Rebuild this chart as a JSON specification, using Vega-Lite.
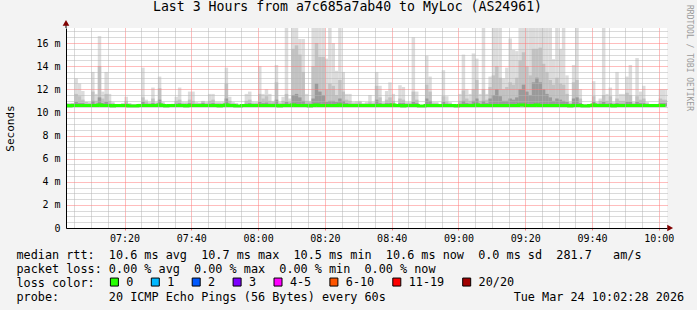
{
  "$schema": "https://vega.github.io/schema/vega-lite/v6.json",
  "width": 601,
  "height": 200,
  "autosize": {"type": "none"},
  "padding": {"left": 66, "top": 28, "right": 30, "bottom": 82},
  "background": "#f3f3f3",
  "config": {"view": {"stroke": null, "fill": "#ffffff"}, "font": "DejaVu Sans Mono"},
  "title": {"text": "Last 3 Hours from a7c685a7ab40 to MyLoc (AS24961)", "font": "DejaVu Sans Mono", "fontSize": 13.2, "fontWeight": "normal", "color": "black", "anchor": "middle", "frame": "group", "dx": -19, "offset": -19.5, "baseline": "alphabetic"},
  "datasets": {
    "smoke": [
      {"t":"2026-03-24T07:02","h":10.8,"m":10.8,"d":10.7,"md":10.6},
      {"t":"2026-03-24T07:03","h":10.8,"m":10.75,"d":10.7,"md":10.55},
      {"t":"2026-03-24T07:04","h":10.8,"m":10.8,"d":10.7,"md":10.6},
      {"t":"2026-03-24T07:05","h":12.95,"m":11.6,"d":10.9,"md":10.6},
      {"t":"2026-03-24T07:06","h":12.5,"m":11.4,"d":10.8,"md":10.6},
      {"t":"2026-03-24T07:07","h":11.85,"m":11.1,"d":10.8,"md":10.6},
      {"t":"2026-03-24T07:08","h":10.9,"m":10.9,"d":10.7,"md":10.6},
      {"t":"2026-03-24T07:09","h":10.9,"m":10.8,"d":10.7,"md":10.6},
      {"t":"2026-03-24T07:10","h":13.5,"m":11.8,"d":11.0,"md":10.6},
      {"t":"2026-03-24T07:11","h":11.6,"m":11.0,"d":10.75,"md":10.6},
      {"t":"2026-03-24T07:12","h":16.6,"m":14.0,"d":11.3,"md":10.65},
      {"t":"2026-03-24T07:13","h":11.8,"m":11.2,"d":10.8,"md":10.6},
      {"t":"2026-03-24T07:14","h":13.5,"m":11.6,"d":10.9,"md":10.6},
      {"t":"2026-03-24T07:15","h":11.6,"m":11.0,"d":10.75,"md":10.6},
      {"t":"2026-03-24T07:16","h":10.9,"m":10.8,"d":10.7,"md":10.55},
      {"t":"2026-03-24T07:17","h":10.7,"m":10.7,"d":10.65,"md":10.6},
      {"t":"2026-03-24T07:18","h":10.7,"m":10.7,"d":10.65,"md":10.6},
      {"t":"2026-03-24T07:19","h":10.8,"m":10.75,"d":10.7,"md":10.6},
      {"t":"2026-03-24T07:20","h":11.35,"m":11.0,"d":10.75,"md":10.6},
      {"t":"2026-03-24T07:21","h":10.8,"m":10.75,"d":10.7,"md":10.55},
      {"t":"2026-03-24T07:22","h":10.7,"m":10.7,"d":10.65,"md":10.55},
      {"t":"2026-03-24T07:23","h":10.7,"m":10.7,"d":10.65,"md":10.55},
      {"t":"2026-03-24T07:24","h":10.75,"m":10.7,"d":10.65,"md":10.6},
      {"t":"2026-03-24T07:25","h":13.87,"m":11.3,"d":10.9,"md":10.6},
      {"t":"2026-03-24T07:26","h":11.1,"m":10.9,"d":10.75,"md":10.6},
      {"t":"2026-03-24T07:27","h":10.9,"m":10.8,"d":10.7,"md":10.6},
      {"t":"2026-03-24T07:28","h":12.15,"m":11.2,"d":10.8,"md":10.6},
      {"t":"2026-03-24T07:29","h":10.9,"m":10.8,"d":10.7,"md":10.6},
      {"t":"2026-03-24T07:30","h":13.1,"m":12.1,"d":11.1,"md":10.65},
      {"t":"2026-03-24T07:31","h":10.9,"m":10.8,"d":10.7,"md":10.6},
      {"t":"2026-03-24T07:32","h":10.7,"m":10.7,"d":10.65,"md":10.55},
      {"t":"2026-03-24T07:33","h":10.7,"m":10.7,"d":10.65,"md":10.6},
      {"t":"2026-03-24T07:34","h":10.75,"m":10.7,"d":10.65,"md":10.6},
      {"t":"2026-03-24T07:35","h":11.35,"m":11.0,"d":10.75,"md":10.6},
      {"t":"2026-03-24T07:36","h":12.15,"m":11.1,"d":10.8,"md":10.6},
      {"t":"2026-03-24T07:37","h":10.9,"m":10.8,"d":10.7,"md":10.6},
      {"t":"2026-03-24T07:38","h":10.9,"m":10.8,"d":10.7,"md":10.55},
      {"t":"2026-03-24T07:39","h":11.8,"m":11.1,"d":10.8,"md":10.6},
      {"t":"2026-03-24T07:40","h":11.8,"m":11.0,"d":10.75,"md":10.6},
      {"t":"2026-03-24T07:41","h":10.9,"m":10.8,"d":10.7,"md":10.6},
      {"t":"2026-03-24T07:42","h":10.85,"m":10.8,"d":10.7,"md":10.6},
      {"t":"2026-03-24T07:43","h":11.0,"m":10.95,"d":10.8,"md":10.6},
      {"t":"2026-03-24T07:44","h":10.9,"m":10.8,"d":10.7,"md":10.6},
      {"t":"2026-03-24T07:45","h":11.6,"m":11.0,"d":10.75,"md":10.6},
      {"t":"2026-03-24T07:46","h":11.6,"m":11.1,"d":10.8,"md":10.6},
      {"t":"2026-03-24T07:47","h":10.9,"m":10.8,"d":10.7,"md":10.6},
      {"t":"2026-03-24T07:48","h":10.9,"m":10.8,"d":10.7,"md":10.55},
      {"t":"2026-03-24T07:49","h":10.9,"m":10.8,"d":10.7,"md":10.6},
      {"t":"2026-03-24T07:50","h":13.87,"m":12.5,"d":11.2,"md":10.65},
      {"t":"2026-03-24T07:51","h":11.35,"m":11.0,"d":10.75,"md":10.6},
      {"t":"2026-03-24T07:52","h":10.9,"m":10.8,"d":10.7,"md":10.6},
      {"t":"2026-03-24T07:53","h":10.8,"m":10.75,"d":10.7,"md":10.55},
      {"t":"2026-03-24T07:54","h":10.6,"m":10.6,"d":10.6,"md":10.55},
      {"t":"2026-03-24T07:55","h":10.6,"m":10.6,"d":10.6,"md":10.6},
      {"t":"2026-03-24T07:56","h":11.6,"m":11.0,"d":10.75,"md":10.6},
      {"t":"2026-03-24T07:57","h":11.8,"m":11.1,"d":10.8,"md":10.6},
      {"t":"2026-03-24T07:58","h":10.9,"m":10.8,"d":10.7,"md":10.6},
      {"t":"2026-03-24T07:59","h":10.9,"m":10.8,"d":10.7,"md":10.6},
      {"t":"2026-03-24T08:00","h":14.0,"m":11.6,"d":10.9,"md":10.6},
      {"t":"2026-03-24T08:01","h":11.6,"m":11.2,"d":10.8,"md":10.6},
      {"t":"2026-03-24T08:02","h":12.0,"m":11.4,"d":10.85,"md":10.6},
      {"t":"2026-03-24T08:03","h":11.6,"m":11.0,"d":10.75,"md":10.6},
      {"t":"2026-03-24T08:04","h":11.0,"m":10.9,"d":10.75,"md":10.6},
      {"t":"2026-03-24T08:05","h":14.1,"m":12.6,"d":11.1,"md":10.6},
      {"t":"2026-03-24T08:06","h":10.9,"m":10.8,"d":10.7,"md":10.55},
      {"t":"2026-03-24T08:07","h":11.35,"m":11.0,"d":10.75,"md":10.6},
      {"t":"2026-03-24T08:08","h":17.3,"m":11.6,"d":10.9,"md":10.6},
      {"t":"2026-03-24T08:09","h":11.2,"m":10.9,"d":10.75,"md":10.6},
      {"t":"2026-03-24T08:10","h":17.3,"m":15.5,"d":11.5,"md":10.65},
      {"t":"2026-03-24T08:11","h":17.3,"m":15.8,"d":11.6,"md":10.6},
      {"t":"2026-03-24T08:12","h":16.35,"m":15.0,"d":11.3,"md":10.6},
      {"t":"2026-03-24T08:13","h":16.35,"m":13.5,"d":11.0,"md":10.6},
      {"t":"2026-03-24T08:14","h":11.6,"m":11.0,"d":10.75,"md":10.6},
      {"t":"2026-03-24T08:15","h":11.0,"m":10.9,"d":10.75,"md":10.55},
      {"t":"2026-03-24T08:16","h":17.3,"m":14.0,"d":11.2,"md":10.6},
      {"t":"2026-03-24T08:17","h":17.3,"m":16.0,"d":12.5,"md":10.65},
      {"t":"2026-03-24T08:18","h":17.3,"m":14.8,"d":11.8,"md":10.6},
      {"t":"2026-03-24T08:19","h":17.3,"m":14.8,"d":11.5,"md":10.6},
      {"t":"2026-03-24T08:20","h":14.65,"m":12.0,"d":10.9,"md":10.6},
      {"t":"2026-03-24T08:21","h":17.3,"m":12.5,"d":11.0,"md":10.6},
      {"t":"2026-03-24T08:22","h":16.0,"m":12.3,"d":11.0,"md":10.6},
      {"t":"2026-03-24T08:23","h":13.6,"m":11.5,"d":10.9,"md":10.6},
      {"t":"2026-03-24T08:24","h":17.3,"m":12.8,"d":11.2,"md":10.65},
      {"t":"2026-03-24T08:25","h":13.5,"m":11.8,"d":11.0,"md":10.6},
      {"t":"2026-03-24T08:26","h":11.6,"m":11.1,"d":10.8,"md":10.6},
      {"t":"2026-03-24T08:27","h":11.6,"m":11.0,"d":10.75,"md":10.6},
      {"t":"2026-03-24T08:28","h":10.9,"m":10.8,"d":10.7,"md":10.6},
      {"t":"2026-03-24T08:29","h":10.95,"m":10.85,"d":10.7,"md":10.6},
      {"t":"2026-03-24T08:30","h":11.0,"m":10.9,"d":10.75,"md":10.6},
      {"t":"2026-03-24T08:31","h":10.8,"m":10.75,"d":10.7,"md":10.6},
      {"t":"2026-03-24T08:32","h":10.9,"m":10.8,"d":10.7,"md":10.6},
      {"t":"2026-03-24T08:33","h":11.5,"m":10.9,"d":10.75,"md":10.6},
      {"t":"2026-03-24T08:34","h":10.9,"m":10.8,"d":10.7,"md":10.6},
      {"t":"2026-03-24T08:35","h":13.5,"m":12.3,"d":11.1,"md":10.6},
      {"t":"2026-03-24T08:36","h":12.3,"m":11.3,"d":10.8,"md":10.6},
      {"t":"2026-03-24T08:37","h":10.9,"m":10.8,"d":10.7,"md":10.6},
      {"t":"2026-03-24T08:38","h":11.85,"m":11.1,"d":10.8,"md":10.6},
      {"t":"2026-03-24T08:39","h":12.6,"m":11.3,"d":10.8,"md":10.6},
      {"t":"2026-03-24T08:40","h":11.6,"m":11.0,"d":10.75,"md":10.65},
      {"t":"2026-03-24T08:41","h":10.6,"m":10.6,"d":10.6,"md":10.6},
      {"t":"2026-03-24T08:42","h":12.35,"m":11.2,"d":10.8,"md":10.6},
      {"t":"2026-03-24T08:43","h":12.2,"m":11.1,"d":10.8,"md":10.55},
      {"t":"2026-03-24T08:44","h":10.9,"m":10.8,"d":10.7,"md":10.6},
      {"t":"2026-03-24T08:45","h":10.9,"m":10.8,"d":10.7,"md":10.6},
      {"t":"2026-03-24T08:46","h":16.5,"m":11.8,"d":10.9,"md":10.6},
      {"t":"2026-03-24T08:47","h":11.8,"m":11.1,"d":10.8,"md":10.6},
      {"t":"2026-03-24T08:48","h":10.6,"m":10.6,"d":10.6,"md":10.55},
      {"t":"2026-03-24T08:49","h":10.6,"m":10.6,"d":10.6,"md":10.55},
      {"t":"2026-03-24T08:50","h":14.9,"m":12.4,"d":11.2,"md":10.6},
      {"t":"2026-03-24T08:51","h":13.1,"m":11.8,"d":11.0,"md":10.6},
      {"t":"2026-03-24T08:52","h":10.9,"m":10.8,"d":10.7,"md":10.6},
      {"t":"2026-03-24T08:53","h":10.9,"m":10.8,"d":10.7,"md":10.6},
      {"t":"2026-03-24T08:54","h":10.6,"m":10.6,"d":10.6,"md":10.6},
      {"t":"2026-03-24T08:55","h":13.65,"m":11.4,"d":10.9,"md":10.6},
      {"t":"2026-03-24T08:56","h":11.4,"m":10.9,"d":10.75,"md":10.6},
      {"t":"2026-03-24T08:57","h":10.9,"m":10.8,"d":10.7,"md":10.6},
      {"t":"2026-03-24T08:58","h":10.7,"m":10.7,"d":10.65,"md":10.6},
      {"t":"2026-03-24T08:59","h":10.7,"m":10.7,"d":10.65,"md":10.55},
      {"t":"2026-03-24T09:00","h":11.6,"m":11.0,"d":10.75,"md":10.6},
      {"t":"2026-03-24T09:01","h":15.0,"m":11.9,"d":11.0,"md":10.6},
      {"t":"2026-03-24T09:02","h":12.0,"m":11.2,"d":10.8,"md":10.6},
      {"t":"2026-03-24T09:03","h":11.6,"m":11.0,"d":10.75,"md":10.6},
      {"t":"2026-03-24T09:04","h":15.1,"m":12.0,"d":11.0,"md":10.6},
      {"t":"2026-03-24T09:05","h":14.65,"m":12.8,"d":11.2,"md":10.65},
      {"t":"2026-03-24T09:06","h":11.6,"m":11.0,"d":10.75,"md":10.6},
      {"t":"2026-03-24T09:07","h":17.3,"m":12.0,"d":11.0,"md":10.6},
      {"t":"2026-03-24T09:08","h":11.6,"m":11.1,"d":10.8,"md":10.6},
      {"t":"2026-03-24T09:09","h":13.1,"m":12.2,"d":11.2,"md":10.6},
      {"t":"2026-03-24T09:10","h":17.3,"m":13.2,"d":11.5,"md":10.6},
      {"t":"2026-03-24T09:11","h":17.3,"m":14.0,"d":12.0,"md":10.6},
      {"t":"2026-03-24T09:12","h":17.3,"m":13.0,"d":11.4,"md":10.6},
      {"t":"2026-03-24T09:13","h":12.95,"m":12.0,"d":11.0,"md":10.6},
      {"t":"2026-03-24T09:14","h":13.87,"m":12.2,"d":11.0,"md":10.6},
      {"t":"2026-03-24T09:15","h":16.4,"m":12.6,"d":11.2,"md":10.6},
      {"t":"2026-03-24T09:16","h":15.4,"m":12.4,"d":11.1,"md":10.6},
      {"t":"2026-03-24T09:17","h":15.3,"m":13.0,"d":11.3,"md":10.6},
      {"t":"2026-03-24T09:18","h":17.3,"m":14.5,"d":12.0,"md":10.65},
      {"t":"2026-03-24T09:19","h":17.3,"m":15.2,"d":12.4,"md":10.65},
      {"t":"2026-03-24T09:20","h":17.3,"m":14.0,"d":11.8,"md":10.6},
      {"t":"2026-03-24T09:21","h":17.3,"m":13.2,"d":11.5,"md":10.6},
      {"t":"2026-03-24T09:22","h":17.3,"m":15.5,"d":12.6,"md":10.6},
      {"t":"2026-03-24T09:23","h":17.3,"m":15.5,"d":13.0,"md":10.65},
      {"t":"2026-03-24T09:24","h":17.3,"m":15.6,"d":12.6,"md":10.6},
      {"t":"2026-03-24T09:25","h":17.3,"m":14.2,"d":12.0,"md":10.6},
      {"t":"2026-03-24T09:26","h":17.3,"m":13.5,"d":11.6,"md":10.6},
      {"t":"2026-03-24T09:27","h":17.3,"m":12.8,"d":11.3,"md":10.6},
      {"t":"2026-03-24T09:28","h":14.6,"m":12.4,"d":11.0,"md":10.6},
      {"t":"2026-03-24T09:29","h":17.3,"m":13.0,"d":11.2,"md":10.6},
      {"t":"2026-03-24T09:30","h":15.5,"m":12.5,"d":11.1,"md":10.6},
      {"t":"2026-03-24T09:31","h":17.3,"m":12.4,"d":11.0,"md":10.6},
      {"t":"2026-03-24T09:32","h":13.2,"m":11.6,"d":10.9,"md":10.6},
      {"t":"2026-03-24T09:33","h":10.9,"m":10.8,"d":10.7,"md":10.55},
      {"t":"2026-03-24T09:34","h":14.1,"m":12.6,"d":11.2,"md":10.6},
      {"t":"2026-03-24T09:35","h":17.3,"m":12.8,"d":11.3,"md":10.6},
      {"t":"2026-03-24T09:36","h":12.0,"m":11.2,"d":10.8,"md":10.6},
      {"t":"2026-03-24T09:37","h":10.7,"m":10.7,"d":10.65,"md":10.55},
      {"t":"2026-03-24T09:38","h":10.7,"m":10.7,"d":10.65,"md":10.55},
      {"t":"2026-03-24T09:39","h":10.7,"m":10.7,"d":10.65,"md":10.6},
      {"t":"2026-03-24T09:40","h":12.7,"m":11.4,"d":10.9,"md":10.65},
      {"t":"2026-03-24T09:41","h":10.9,"m":10.8,"d":10.7,"md":10.6},
      {"t":"2026-03-24T09:42","h":11.2,"m":11.0,"d":10.75,"md":10.6},
      {"t":"2026-03-24T09:43","h":17.3,"m":11.5,"d":10.9,"md":10.6},
      {"t":"2026-03-24T09:44","h":11.6,"m":11.0,"d":10.75,"md":10.6},
      {"t":"2026-03-24T09:45","h":12.15,"m":11.4,"d":10.8,"md":10.6},
      {"t":"2026-03-24T09:46","h":10.9,"m":10.8,"d":10.7,"md":10.55},
      {"t":"2026-03-24T09:47","h":13.5,"m":11.2,"d":10.8,"md":10.6},
      {"t":"2026-03-24T09:48","h":11.6,"m":11.0,"d":10.75,"md":10.6},
      {"t":"2026-03-24T09:49","h":11.6,"m":11.0,"d":10.75,"md":10.6},
      {"t":"2026-03-24T09:50","h":13.1,"m":11.7,"d":10.9,"md":10.6},
      {"t":"2026-03-24T09:51","h":14.1,"m":11.5,"d":10.9,"md":10.6},
      {"t":"2026-03-24T09:52","h":10.9,"m":10.8,"d":10.7,"md":10.6},
      {"t":"2026-03-24T09:53","h":14.7,"m":11.4,"d":10.9,"md":10.6},
      {"t":"2026-03-24T09:54","h":11.8,"m":11.1,"d":10.8,"md":10.6},
      {"t":"2026-03-24T09:55","h":12.3,"m":11.2,"d":10.8,"md":10.6},
      {"t":"2026-03-24T09:56","h":10.9,"m":10.8,"d":10.7,"md":10.6},
      {"t":"2026-03-24T09:57","h":10.7,"m":10.7,"d":10.65,"md":10.6},
      {"t":"2026-03-24T09:58","h":10.7,"m":10.7,"d":10.65,"md":10.6},
      {"t":"2026-03-24T09:59","h":10.7,"m":10.7,"d":10.65,"md":10.6},
      {"t":"2026-03-24T10:00","h":12.0,"m":11.2,"d":10.8,"md":10.6},
      {"t":"2026-03-24T10:01","h":12.0,"m":11.1,"d":10.8,"md":10.6},
      {"t":"2026-03-24T10:02","h":12.0,"m":11.1,"d":10.8,"md":10.6}
    ]
  },
  "data": {"name": "smoke"},
  "resolve": {"axis": {"x": "independent", "y": "independent"}},
  "layer": [
    {
      "mark": {"type": "bar", "color": "#dcdcdc", "clip": true, "width": 3.5, "xOffset": 1.67},
      "encoding": {
        "x": {"field": "t", "type": "temporal",
          "scale": {"domain": [{"year": 2026, "month": 3, "date": 24, "hours": 7, "minutes": 2, "seconds": 28}, {"year": 2026, "month": 3, "date": 24, "hours": 10, "minutes": 2, "seconds": 28}], "padding": 0},
          "axis": {"orient": "bottom", "labels": false, "ticks": false, "domain": false, "title": null, "grid": true, "gridColor": "#b4b4b4", "gridDash": [1, 1], "zindex": 1,
            "values": [
              {"year": 2026, "month": 3, "date": 24, "hours": 7, "minutes": 5},
              {"year": 2026, "month": 3, "date": 24, "hours": 7, "minutes": 10},
              {"year": 2026, "month": 3, "date": 24, "hours": 7, "minutes": 15},
              {"year": 2026, "month": 3, "date": 24, "hours": 7, "minutes": 25},
              {"year": 2026, "month": 3, "date": 24, "hours": 7, "minutes": 30},
              {"year": 2026, "month": 3, "date": 24, "hours": 7, "minutes": 35},
              {"year": 2026, "month": 3, "date": 24, "hours": 7, "minutes": 45},
              {"year": 2026, "month": 3, "date": 24, "hours": 7, "minutes": 50},
              {"year": 2026, "month": 3, "date": 24, "hours": 7, "minutes": 55},
              {"year": 2026, "month": 3, "date": 24, "hours": 8, "minutes": 5},
              {"year": 2026, "month": 3, "date": 24, "hours": 8, "minutes": 10},
              {"year": 2026, "month": 3, "date": 24, "hours": 8, "minutes": 15},
              {"year": 2026, "month": 3, "date": 24, "hours": 8, "minutes": 25},
              {"year": 2026, "month": 3, "date": 24, "hours": 8, "minutes": 30},
              {"year": 2026, "month": 3, "date": 24, "hours": 8, "minutes": 35},
              {"year": 2026, "month": 3, "date": 24, "hours": 8, "minutes": 45},
              {"year": 2026, "month": 3, "date": 24, "hours": 8, "minutes": 50},
              {"year": 2026, "month": 3, "date": 24, "hours": 8, "minutes": 55},
              {"year": 2026, "month": 3, "date": 24, "hours": 9, "minutes": 5},
              {"year": 2026, "month": 3, "date": 24, "hours": 9, "minutes": 10},
              {"year": 2026, "month": 3, "date": 24, "hours": 9, "minutes": 15},
              {"year": 2026, "month": 3, "date": 24, "hours": 9, "minutes": 25},
              {"year": 2026, "month": 3, "date": 24, "hours": 9, "minutes": 30},
              {"year": 2026, "month": 3, "date": 24, "hours": 9, "minutes": 35},
              {"year": 2026, "month": 3, "date": 24, "hours": 9, "minutes": 45},
              {"year": 2026, "month": 3, "date": 24, "hours": 9, "minutes": 50},
              {"year": 2026, "month": 3, "date": 24, "hours": 9, "minutes": 55}
            ]}},
        "y": {"field": "h", "type": "quantitative", "scale": {"domain": [0, 17.3], "nice": false, "zero": true},
          "axis": {"orient": "left", "labels": false, "ticks": false, "domain": false, "title": null, "grid": true, "gridColor": "#b4b4b4", "gridDash": [1, 1], "zindex": 1,
            "values": [0.5, 1, 1.5, 2.5, 3, 3.5, 4.5, 5, 5.5, 6.5, 7, 7.5, 8.5, 9, 9.5, 10.5, 11, 11.5, 12.5, 13, 13.5, 14.5, 15, 15.5, 16.5, 17]}},
        "y2": {"datum": 10.5}
      }
    },
    {
      "mark": {"type": "bar", "color": "#c2c2c2", "clip": true, "width": 3.5, "xOffset": 1.67},
      "encoding": {
        "x": {"field": "t", "type": "temporal", "axis": null},
        "y": {"field": "m", "type": "quantitative",
          "axis": {"orient": "right", "labels": false, "ticks": false, "domain": false, "domainColor": "transparent", "grid": false, "title": "RRDTOOL / TOBI OETIKER", "titleAngle": 90, "titleFont": "DejaVu Sans Mono", "titleFontSize": 8, "titleFontWeight": "normal", "titleColor": "#9a9a9a", "titleX": 21, "titleY": 29.5, "titleAlign": "center", "titleBaseline": "middle"}},
        "y2": {"datum": 10.5}
      }
    },
    {
      "mark": {"type": "bar", "color": "#9a9a9a", "clip": true, "width": 3.5, "xOffset": 1.67},
      "encoding": {
        "x": {"field": "t", "type": "temporal", "axis": null},
        "y": {"field": "d", "type": "quantitative", "axis": null},
        "y2": {"datum": 10.5}
      }
    },
    {
      "mark": {"type": "line", "strokeWidth": 3, "interpolate": "step-after", "clip": true, "color": "#26ff00"},
      "encoding": {
        "x": {"field": "t", "type": "temporal",
          "axis": {"orient": "bottom", "format": "%H:%M", "grid": true, "gridColor": "#ff7a7a", "gridDash": [1, 1], "domain": true, "domainColor": "black", "ticks": true, "tickColor": "#ff7a7a", "tickSize": 2, "labelFont": "DejaVu Sans Mono", "labelFontSize": 10, "labelColor": "black", "labelPadding": 3, "labelFlush": false, "labelOverlap": false, "zindex": 1,
            "values": [
              {"year": 2026, "month": 3, "date": 24, "hours": 7, "minutes": 20},
              {"year": 2026, "month": 3, "date": 24, "hours": 7, "minutes": 40},
              {"year": 2026, "month": 3, "date": 24, "hours": 8, "minutes": 0},
              {"year": 2026, "month": 3, "date": 24, "hours": 8, "minutes": 20},
              {"year": 2026, "month": 3, "date": 24, "hours": 8, "minutes": 40},
              {"year": 2026, "month": 3, "date": 24, "hours": 9, "minutes": 0},
              {"year": 2026, "month": 3, "date": 24, "hours": 9, "minutes": 20},
              {"year": 2026, "month": 3, "date": 24, "hours": 9, "minutes": 40},
              {"year": 2026, "month": 3, "date": 24, "hours": 10, "minutes": 0}
            ],
            "title": ["median rtt:\u00a0\u00a010.6 ms avg\u00a0\u00a010.7 ms max\u00a0\u00a010.5 ms min\u00a0\u00a010.6 ms now\u00a0\u00a00.0 ms sd\u00a0\u00a0281.7\u00a0\u00a0\u00a0am/s", "packet loss: 0.00 % avg\u00a0\u00a00.00 % max\u00a0\u00a00.00 % min\u00a0\u00a00.00 % now", "loss color:", "probe:\u00a0\u00a0\u00a0\u00a0\u00a0\u00a0\u00a020 ICMP Echo Pings (56 Bytes) every 60s\u00a0\u00a0\u00a0\u00a0\u00a0\u00a0\u00a0\u00a0\u00a0\u00a0\u00a0\u00a0\u00a0\u00a0\u00a0\u00a0\u00a0\u00a0Tue Mar 24 10:02:28 2026"],
            "titleFont": "DejaVu Sans Mono", "titleFontSize": 11.8, "titleFontWeight": "normal", "titleColor": "black", "titleAnchor": "start", "titleAlign": "left", "titleBaseline": "alphabetic", "titleLineHeight": 14, "titleX": -50, "titleY": 30}},
        "y": {"field": "md", "type": "quantitative",
          "axis": {"orient": "left", "values": [0, 2, 4, 6, 8, 10, 12, 14, 16], "labelExpr": "datum.value == 0 ? '0' : datum.value + ' m'", "grid": true, "gridColor": "#ff7a7a", "gridDash": [1, 1], "domain": true, "domainColor": "black", "ticks": false, "labelPadding": 6, "labelFont": "DejaVu Sans Mono", "labelFontSize": 10, "labelColor": "black", "zindex": 1,
            "title": "Seconds", "titleFont": "DejaVu Sans Mono", "titleFontSize": 11, "titleFontWeight": "normal", "titleColor": "black", "titleX": -56, "titleY": 100, "titleAngle": -90, "titleAlign": "center", "titleBaseline": "middle"}}
      }
    },
    {
      "data": {"values": [{}]},
      "mark": {"type": "point", "shape": "square", "filled": true, "stroke": "black", "strokeWidth": 1, "opacity": 1, "size": 64, "clip": true},
      "encoding": {
        "x": {"datum": {"year": 2026, "month": 3, "date": 24, "hours": 7, "minutes": 0}, "type": "temporal", "axis": null},
        "y": {"datum": 10.6, "type": "quantitative", "axis": null},
        "color": {"datum": "0", "type": "nominal",
          "scale": {"domain": ["0", "1", "2", "3", "4-5", "6-10", "11-19", "20/20"], "range": ["#26ff00", "#00b8ff", "#0059ff", "#7e00ff", "#ff00ff", "#ff5500", "#ff0000", "#a10000"]},
          "legend": {"orient": "none", "legendX": 42.5, "legendY": 248, "direction": "horizontal", "title": null, "symbolType": "square", "symbolSize": 64, "symbolStrokeWidth": 1, "symbolStrokeColor": "black", "symbolOpacity": 1, "labelFont": "DejaVu Sans Mono", "labelFontSize": 11.8, "labelColor": "black", "labelOffset": 6, "columnPadding": 14.9, "padding": 0}}
      }
    },
    {
      "data": {"values": [{}]},
      "mark": {"type": "rule", "color": "black", "strokeWidth": 1},
      "encoding": {
        "x": {"datum": {"year": 2026, "month": 3, "date": 24, "hours": 7, "minutes": 2, "seconds": 28}, "type": "temporal", "axis": null},
        "y": {"datum": 17.3, "type": "quantitative", "axis": null},
        "y2": {"datum": 17.7}
      }
    },
    {
      "data": {"values": [{}]},
      "mark": {"type": "point", "shape": "triangle-up", "size": 45, "filled": true, "color": "#800000", "opacity": 1},
      "encoding": {
        "x": {"datum": {"year": 2026, "month": 3, "date": 24, "hours": 7, "minutes": 2, "seconds": 28}, "type": "temporal", "axis": null},
        "y": {"datum": 17.75, "type": "quantitative", "axis": null}
      }
    },
    {
      "data": {"values": [{}]},
      "mark": {"type": "point", "shape": "triangle-right", "size": 45, "filled": true, "color": "#800000", "opacity": 1},
      "encoding": {
        "x": {"datum": {"year": 2026, "month": 3, "date": 24, "hours": 10, "minutes": 3, "seconds": 25}, "type": "temporal", "axis": null},
        "y": {"datum": 0, "type": "quantitative", "axis": null}
      }
    }
  ]
}
